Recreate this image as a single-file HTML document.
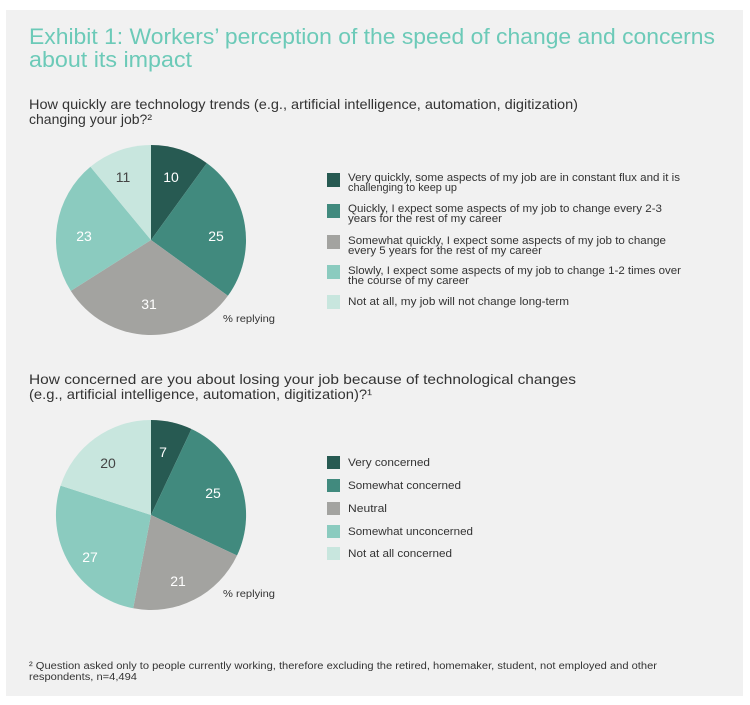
<!DOCTYPE html>
<html><head><meta charset="utf-8"><style>
html,body{margin:0;padding:0;background:#fff;}
svg{display:block;font-family:"Liberation Sans",sans-serif;}
</style></head><body>
<svg width="750" height="705" viewBox="0 0 750 705">
<rect x="6" y="10" width="737" height="686" fill="#f1f1f1"/>
<text x="29" y="44" font-size="22" fill="#6ccab8" textLength="686" lengthAdjust="spacingAndGlyphs">Exhibit 1: Workers’ perception of the speed of change and concerns</text>
<text x="29" y="67" font-size="22" fill="#6ccab8" textLength="163" lengthAdjust="spacingAndGlyphs">about its impact</text>
<text x="29" y="109" font-size="14" fill="#333" textLength="549" lengthAdjust="spacingAndGlyphs">How quickly are technology trends (e.g., artificial intelligence, automation, digitization)</text>
<text x="29" y="124" font-size="14" fill="#333" textLength="123" lengthAdjust="spacingAndGlyphs">changing your job?²</text>

<g stroke="none">
<path d="M151,240 L151,145 A95,95 0 0 1 206.8,163.1 Z" fill="#275a52"/>
<path d="M151,240 L206.8,163.1 A95,95 0 0 1 227.9,295.8 Z" fill="#418a7e"/>
<path d="M151,240 L227.9,295.8 A95,95 0 0 1 70.8,290.9 Z" fill="#a3a3a0"/>
<path d="M151,240 L70.8,290.9 A95,95 0 0 1 90.4,166.8 Z" fill="#8bcbbf"/>
<path d="M151,240 L90.4,166.8 A95,95 0 0 1 151,145 Z" fill="#c8e6de"/>
</g>
<g font-size="14" text-anchor="middle">
<text x="171" y="182" fill="#fff">10</text>
<text x="216" y="241" fill="#fff">25</text>
<text x="149" y="309" fill="#fff">31</text>
<text x="84" y="241" fill="#fff">23</text>
<text x="123" y="182" fill="#444">11</text>
</g>
<text x="223" y="322" font-size="10.5" fill="#333" textLength="52" lengthAdjust="spacingAndGlyphs">% replying</text>

<g font-size="11" fill="#333" lengthAdjust="spacingAndGlyphs">
<rect x="327" y="173" width="13" height="14" fill="#275a52"/>
<text x="348" y="181" textLength="332" lengthAdjust="spacingAndGlyphs">Very quickly, some aspects of my job are in constant flux and it is</text>
<text x="348" y="191" textLength="109" lengthAdjust="spacingAndGlyphs">challenging to keep up</text>
<rect x="327" y="204" width="13" height="14" fill="#418a7e"/>
<text x="348" y="212" textLength="314" lengthAdjust="spacingAndGlyphs">Quickly, I expect some aspects of my job to change every 2-3</text>
<text x="348" y="222" textLength="154" lengthAdjust="spacingAndGlyphs">years for the rest of my career</text>
<rect x="327" y="235" width="13" height="14" fill="#a3a3a0"/>
<text x="348" y="244" textLength="318" lengthAdjust="spacingAndGlyphs">Somewhat quickly, I expect some aspects of my job to change</text>
<text x="348" y="254" textLength="194" lengthAdjust="spacingAndGlyphs">every 5 years for the rest of my career</text>
<rect x="327" y="265" width="13" height="14" fill="#8bcbbf"/>
<text x="348" y="274" textLength="333" lengthAdjust="spacingAndGlyphs">Slowly, I expect some aspects of my job to change 1-2 times over</text>
<text x="348" y="284" textLength="121" lengthAdjust="spacingAndGlyphs">the course of my career</text>
<rect x="327" y="295" width="13" height="14" fill="#c8e6de"/>
<text x="348" y="305" textLength="221" lengthAdjust="spacingAndGlyphs">Not at all, my job will not change long-term</text>
</g>

<text x="29" y="384" font-size="14" fill="#333" textLength="547" lengthAdjust="spacingAndGlyphs">How concerned are you about losing your job because of technological changes</text>
<text x="29" y="399" font-size="14" fill="#333" textLength="343" lengthAdjust="spacingAndGlyphs">(e.g., artificial intelligence, automation, digitization)?¹</text>

<g stroke="none">
<path d="M151,515 L151,420 A95,95 0 0 1 191.5,429 Z" fill="#275a52"/>
<path d="M151,515 L191.5,429 A95,95 0 0 1 237,555.5 Z" fill="#418a7e"/>
<path d="M151,515 L237,555.5 A95,95 0 0 1 133.2,608.3 Z" fill="#a3a3a0"/>
<path d="M151,515 L133.2,608.3 A95,95 0 0 1 60.6,485.6 Z" fill="#8bcbbf"/>
<path d="M151,515 L60.6,485.6 A95,95 0 0 1 151,420 Z" fill="#c8e6de"/>
</g>
<g font-size="14" text-anchor="middle">
<text x="163" y="457" fill="#fff">7</text>
<text x="213" y="498" fill="#fff">25</text>
<text x="178" y="586" fill="#fff">21</text>
<text x="90" y="562" fill="#fff">27</text>
<text x="108" y="468" fill="#444">20</text>
</g>
<text x="223" y="597" font-size="10.5" fill="#333" textLength="52" lengthAdjust="spacingAndGlyphs">% replying</text>

<g font-size="11" fill="#333">
<rect x="327" y="456" width="13" height="13" fill="#275a52"/>
<text x="348" y="466" textLength="82" lengthAdjust="spacingAndGlyphs">Very concerned</text>
<rect x="327" y="479" width="13" height="13" fill="#418a7e"/>
<text x="348" y="489" textLength="113" lengthAdjust="spacingAndGlyphs">Somewhat concerned</text>
<rect x="327" y="502" width="13" height="13" fill="#a3a3a0"/>
<text x="348" y="512" textLength="39" lengthAdjust="spacingAndGlyphs">Neutral</text>
<rect x="327" y="525" width="13" height="13" fill="#8bcbbf"/>
<text x="348" y="535" textLength="125" lengthAdjust="spacingAndGlyphs">Somewhat unconcerned</text>
<rect x="327" y="547" width="13" height="13" fill="#c8e6de"/>
<text x="348" y="557" textLength="104" lengthAdjust="spacingAndGlyphs">Not at all concerned</text>
</g>

<text x="29" y="669" font-size="10" fill="#333" textLength="628" lengthAdjust="spacingAndGlyphs">² Question asked only to people currently working, therefore excluding the retired, homemaker, student, not employed and other</text>
<text x="29" y="680" font-size="10" fill="#333" textLength="108" lengthAdjust="spacingAndGlyphs">respondents, n=4,494</text>
</svg>
</body></html>
